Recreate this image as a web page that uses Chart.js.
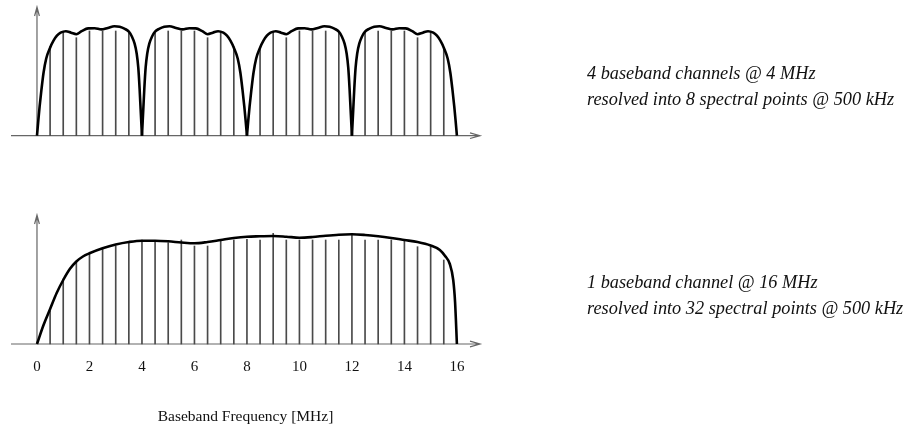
<!DOCTYPE html>
<html>
<head>
<meta charset="utf-8">
<title>Baseband channels resolved into spectral points</title>
<script src="https://cdn.jsdelivr.net/npm/chart.js@4.4.1/dist/chart.umd.min.js"></script>
<style>
  html, body { margin: 0; padding: 0; background: #fff; }
  body { width: 908px; height: 428px; position: relative; overflow: hidden;
         font-family: "Liberation Serif", "Times New Roman", serif; color: #111; }
  canvas { position: absolute; left: 0; }
  .note { position: absolute; left: 587px; font-style: italic; font-size: 18.3px;
          line-height: 22px; white-space: nowrap; color: #111; }
</style>
</head>
<body>
<canvas id="upper" width="908" height="150" style="top:0"></canvas>
<canvas id="lower" width="908" height="228" style="top:200px"></canvas>

<div class="note" style="top:61.5px">4 baseband channels @ 4 MHz</div>
<div class="note" style="top:88px">resolved into 8 spectral points @ 500 kHz</div>
<div class="note" style="top:270.5px">1 baseband channel @ 16 MHz</div>
<div class="note" style="top:297px">resolved into 32 spectral points @ 500 kHz</div>

<script>
// ---- Upper panel: four 4 MHz channels, 500 kHz spectral points ----
const channelStarts = [0, 4, 8, 12];
const channelInverted = [false, true, false, true];

// Passband shape of an upright channel (offset in MHz, relative level)
const uprightFreq  = [0, 0.05, 0.1, 0.17, 0.25, 0.35, 0.5, 0.63, 0.76, 0.9, 1.1, 1.3, 1.5, 1.7, 1.95,
                      2.2, 2.45, 2.7, 2.95, 3.15, 3.35, 3.5, 3.62, 3.72, 3.8, 3.86, 3.91, 3.95, 4];
const uprightLevel = [0, 15, 29, 46, 63, 77, 88, 95, 100, 103, 104.5, 103, 101.5, 104.5, 107.3,
                      107.5, 106.3, 107.8, 109.5, 109, 106.8, 104, 99, 92, 82, 68, 47, 26, 0];
// Passband shape of a spectrally inverted channel
const invertedFreq  = [0, 0.05, 0.09, 0.14, 0.2, 0.28, 0.38, 0.5, 0.65, 0.85, 1.05, 1.3, 1.55, 1.8, 2.05,
                       2.3, 2.5, 2.7, 2.9, 3.1, 3.24, 3.37, 3.5, 3.65, 3.75, 3.83, 3.9, 3.95, 4];
const invertedLevel = [0, 26, 47, 68, 82, 92, 99, 104, 106.8, 109, 109.5, 107.8, 106.3, 107.5, 107.3,
                       104.5, 101.5, 103, 104.5, 103, 100, 95, 88, 77, 63, 46, 29, 15, 0];

// Spectral points inside each channel (offset in MHz) and their levels
const stemOffsets = [0.5, 1, 1.5, 2, 2.5, 3, 3.5];
const channelStemLevels = [
  [89, 104, 98, 104.7, 104.7, 104.7, 102.3],
  [102.3, 104.7, 104.7, 104.7, 98, 104, 89],
  [87.3, 104, 98, 104.7, 104.7, 104.7, 102.3],
  [103.3, 104.7, 104.7, 104.7, 98, 104, 87.3]
];

// ---- Lower panel: one 16 MHz channel, 500 kHz spectral points ----
const wideFreq  = [0, 0.25, 0.5, 0.75, 1, 1.25, 1.5, 1.75, 2, 2.5, 3, 3.5, 4, 4.5, 5, 5.5, 6, 6.5, 7, 7.5,
                   8, 8.5, 9, 9.5, 10, 10.5, 11, 11.5, 12, 12.5, 13, 13.5, 14, 14.5, 15, 15.35, 15.55,
                   15.73, 15.86, 15.93, 16];
const wideLevel = [0, 19, 35, 51, 64, 75, 82.5, 87.5, 90.7, 95.7, 99.5, 102, 103.3, 103.3, 102.7, 101.5,
                   100.7, 102, 104, 106, 107.3, 107.7, 108, 107.3, 106.3, 107, 108.3, 109.3, 109.7, 109,
                   107.7, 106, 104, 102, 98.5, 94, 88, 80, 64, 42, 0];

const wideStemFreq  = [0.5, 1, 1.5, 2, 2.5, 3, 3.5, 4, 4.5, 5, 5.5, 6, 6.5, 7, 7.5, 8,
                       8.5, 9, 9.5, 10, 10.5, 11, 11.5, 12, 12.5, 13, 13.5, 14, 14.5, 15, 15.5];
const wideStemLevel = [33, 65, 82.3, 90, 95, 98, 101.3, 104, 102.7, 101.3, 104, 98, 98, 102.7, 104, 104.7,
                       104, 110.7, 104, 104, 104, 104, 104, 110.7, 104, 104, 104, 103.3, 97.3, 97.3, 84];

const freqTicks = [0, 2, 4, 6, 8, 10, 12, 14, 16];
const axisTitle = 'Baseband Frequency [MHz]';

// ---- drawing helpers ----
const serif = '"Liberation Serif", "Times New Roman", serif';

// Plain axes with open arrowheads, drawn through the chart's scales
const arrowAxes = {
  id: 'arrowAxes',
  beforeDatasetsDraw(chart) {
    const { ctx, scales: { x, y } } = chart;
    const xl = x.getPixelForValue(x.min), xr = x.getPixelForValue(x.max);
    const x0 = x.getPixelForValue(0);
    const yb = y.getPixelForValue(0), yt = y.getPixelForValue(y.max);
    ctx.save();
    ctx.strokeStyle = '#666';
    ctx.lineWidth = 1.2;
    ctx.beginPath();
    ctx.moveTo(xl, yb); ctx.lineTo(xr, yb);
    ctx.moveTo(xr - 10, yb - 2.8); ctx.lineTo(xr, yb); ctx.lineTo(xr - 10, yb + 2.8);
    ctx.moveTo(x0, yb); ctx.lineTo(x0, yt);
    ctx.moveTo(x0 - 2.4, yt + 9); ctx.lineTo(x0, yt); ctx.lineTo(x0 + 2.4, yt + 9);
    ctx.stroke();
    ctx.restore();
  }
};

function curveDataset(freqs, levels, start) {
  return {
    type: 'line',
    data: freqs.map((f, i) => ({ x: start + f, y: levels[i] })),
    borderColor: '#000',
    borderWidth: 2.6,
    pointRadius: 0,
    cubicInterpolationMode: 'monotone',
    clip: false,
    order: 0
  };
}

function stemDataset(points) {
  return {
    type: 'bar',
    data: points,
    backgroundColor: '#4a4a4a',
    borderWidth: 0,
    barThickness: 1,
    clip: false,
    order: 1
  };
}

function xScale(show) {
  return {
    type: 'linear',
    min: -0.99,
    max: 16.88,
    offset: false,
    display: show,
    grid: { display: false, drawTicks: false },
    border: { display: false },
    afterBuildTicks: (scale) => { scale.ticks = freqTicks.map(v => ({ value: v })); },
    ticks: {
      padding: 14,
      color: '#111',
      font: { family: serif, size: 15 },
      callback: (v) => String(v)
    },
    title: {
      display: show,
      text: axisTitle,
      color: '#111',
      font: { family: serif, size: 15.5 },
      padding: { top: 18, bottom: 0 }
    }
  };
}

const commonOptions = {
  responsive: false,
  animation: false,
  events: [],
  plugins: { legend: { display: false }, tooltip: { enabled: false } }
};

// Upper panel
const upperDatasets = [];
const upperStems = [];
channelStarts.forEach((start, c) => {
  const inv = channelInverted[c];
  upperDatasets.push(curveDataset(inv ? invertedFreq : uprightFreq, inv ? invertedLevel : uprightLevel, start));
  stemOffsets.forEach((o, k) => upperStems.push({ x: start + o, y: channelStemLevels[c][k] }));
});
upperDatasets.push(stemDataset(upperStems));

new Chart(document.getElementById('upper'), {
  type: 'line',
  data: { datasets: upperDatasets },
  options: {
    ...commonOptions,
    layout: { padding: { left: 11, right: 428, top: 7, bottom: 14.3 } },
    scales: {
      x: xScale(false),
      y: { type: 'linear', min: 0, max: 128.7, display: false }
    }
  },
  plugins: [arrowAxes]
});

// Lower panel
new Chart(document.getElementById('lower'), {
  type: 'line',
  data: {
    datasets: [
      curveDataset(wideFreq, wideLevel, 0),
      stemDataset(wideStemFreq.map((f, i) => ({ x: f, y: wideStemLevel[i] })))
    ]
  },
  options: {
    ...commonOptions,
    layout: { padding: { left: 11, right: 428, top: 15, bottom: 1.4 } },
    scales: {
      x: xScale(true),
      y: { type: 'linear', min: 0, max: 129, display: false }
    }
  },
  plugins: [arrowAxes]
});
</script>
</body>
</html>
